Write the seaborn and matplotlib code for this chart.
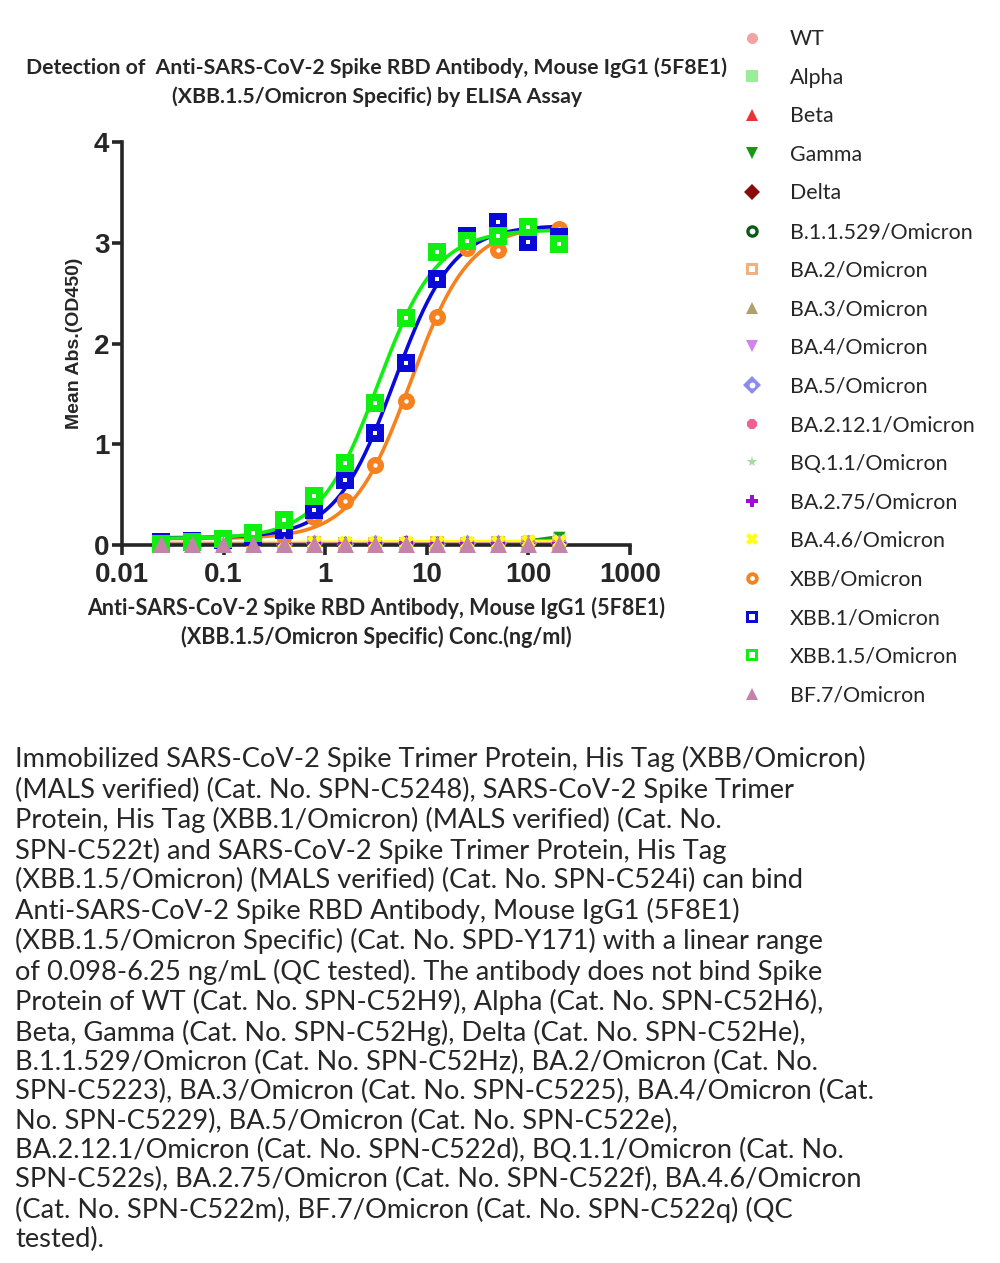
import numpy as np
import pandas as pd
import matplotlib
matplotlib.use("Agg")
import matplotlib.pyplot as plt
import seaborn as sns
from matplotlib.lines import Line2D

# Concentraciones (ng/ml)
conc = [0.0244, 0.0488, 0.0977, 0.1953, 0.3906, 0.7813, 1.5625, 3.125, 6.25, 12.5, 25, 50, 100, 200]

variants = ["WT", "Alpha", "Beta", "Gamma", "Delta", "B.1.1.529/Omicron", "BA.2/Omicron",
            "BA.3/Omicron", "BA.4/Omicron", "BA.5/Omicron", "BA.2.12.1/Omicron", "BQ.1.1/Omicron",
            "BA.2.75/Omicron", "BA.4.6/Omicron", "XBB/Omicron", "XBB.1/Omicron", "XBB.1.5/Omicron",
            "BF.7/Omicron"]

wt = [0.02, 0.01, 0.02, 0.01, 0.02, 0.02, 0.01, 0.01, 0.02, 0.01, 0.02, 0.01, 0.02, 0.02]
alpha = [0.01, 0.02, 0.01, 0.02, 0.02, 0.01, 0.02, 0.02, 0.01, 0.02, 0.01, 0.02, 0.03, 0.07]
beta = [0.01, 0.01, 0.02, 0.01, 0.01, 0.02, 0.01, 0.02, 0.01, 0.01, 0.02, 0.01, 0.01, 0.02]
gamma = [0.02, 0.02, 0.01, 0.02, 0.01, 0.01, 0.02, 0.01, 0.02, 0.02, 0.01, 0.02, 0.04, 0.08]
delta = [0.01, 0.02, 0.01, 0.01, 0.02, 0.01, 0.01, 0.02, 0.01, 0.02, 0.01, 0.01, 0.02, 0.01]
b11529 = [0.02, 0.01, 0.02, 0.02, 0.01, 0.02, 0.02, 0.01, 0.02, 0.01, 0.02, 0.02, 0.01, 0.02]
ba2 = [0.01, 0.01, 0.01, 0.02, 0.02, 0.02, 0.01, 0.01, 0.01, 0.02, 0.01, 0.02, 0.02, 0.02]
ba3 = [0.02, 0.02, 0.02, 0.01, 0.02, 0.01, 0.02, 0.02, 0.02, 0.01, 0.02, 0.01, 0.01, 0.03]
ba4 = [0.01, 0.02, 0.01, 0.01, 0.00, 0.01, 0.00, 0.01, 0.01, 0.02, 0.01, 0.01, 0.01, 0.01]
ba5 = [0.02, 0.01, 0.02, 0.02, 0.01, 0.02, 0.01, 0.02, 0.02, 0.01, 0.02, 0.02, 0.02, 0.02]
ba2121 = [0.01, 0.02, 0.01, 0.02, 0.02, 0.01, 0.02, 0.01, 0.01, 0.02, 0.01, 0.01, 0.02, 0.02]
bq11 = [0.02, 0.01, 0.02, 0.01, 0.01, 0.02, 0.02, 0.02, 0.01, 0.02, 0.02, 0.02, 0.01, 0.02]
ba275 = [0.01, 0.01, 0.02, 0.01, 0.00, 0.01, 0.01, 0.01, 0.02, 0.01, 0.01, 0.01, 0.00, 0.01]
ba46 = [0.02, 0.02, 0.02, 0.02, 0.03, 0.03, 0.03, 0.03, 0.03, 0.03, 0.03, 0.03, 0.04, 0.04]
xbb = [0.03, 0.03, 0.03, 0.04, 0.10, 0.28, 0.44, 0.79, 1.43, 2.26, 2.95, 2.93, 3.10, 3.14]
xbb1 = [0.03, 0.04, 0.05, 0.08, 0.15, 0.35, 0.65, 1.11, 1.81, 2.64, 3.07, 3.21, 3.01, 3.06]
xbb15 = [0.01, 0.03, 0.06, 0.12, 0.25, 0.49, 0.81, 1.41, 2.25, 2.91, 3.02, 3.07, 3.16, 2.99]
bf7 = [0.01, 0.01, 0.01, 0.01, 0.01, 0.01, 0.01, 0.01, 0.01, 0.01, 0.01, 0.01, 0.01, 0.01]

values = [wt, alpha, beta, gamma, delta, b11529, ba2, ba3, ba4, ba5, ba2121, bq11,
          ba275, ba46, xbb, xbb1, xbb15, bf7]

# estilo de cada serie: color, marcador, tamaño, punto blanco central
styles = [
    ("#f4a3a3", "o", 70, 0), ("#98ee98", "s", 70, 0), ("#ea3434", "^", 70, 0),
    ("#149a14", "v", 70, 0), ("#8b0a0a", "D", 60, 0), ("#0b5a12", "o", 90, 25),
    ("#f2b07e", "s", 90, 12), ("#b0a06e", "^", 90, 0), ("#cf84ee", "v", 90, 0),
    ("#8c8cf0", "D", 80, 20), ("#f0608e", "8", 90, 0), ("#a8d8a8", "*", 90, 0),
    ("#9b0fd0", "P", 110, 0), ("#ffff10", "X", 110, 0), ("#f5821e", "o", 150, 10),
    ("#0a0ad8", "s", 150, 8), ("#11ee11", "s", 170, 8), ("#c483a8", "^", 150, 0),
]


def fit_4pl(x, y):
    # ajuste logístico de 4 parámetros por búsqueda en rejilla
    lx = np.log10(x)
    y = np.asarray(y)
    lc = np.linspace(-2, 3, 251)[:, None, None]
    h = np.linspace(0.3, 3.0, 55)[None, :, None]
    s = 1.0 / (1.0 + 10 ** ((lc - lx) * h))
    a = 1 - s
    saa, sab, sbb = (a * a).sum(-1), (a * s).sum(-1), (s * s).sum(-1)
    say, sby = (a * y).sum(-1), (s * y).sum(-1)
    det = saa * sbb - sab ** 2 + 1e-12
    bot = (sbb * say - sab * sby) / det
    top = (saa * sby - sab * say) / det
    pred = bot[..., None] * a + top[..., None] * s
    res = ((pred - y) ** 2).sum(-1)
    i, j = np.unravel_index(np.argmin(res), res.shape)
    return bot[i, j], top[i, j], lc[i, 0, 0], h[0, j, 0]


sns.set_style("ticks")
plt.rcParams["font.family"] = ["Liberation Sans", "DejaVu Sans"]

fig = plt.figure(figsize=(10, 12.63), dpi=100)
ax = fig.add_axes([0.122, 0.5685, 0.508, 0.319])

xs = np.logspace(np.log10(conc[0]), np.log10(conc[-1]), 300)
handles = []
for name, vals, (col, mk, sz, hole) in zip(variants, values, styles):
    b, t, lc, h = fit_4pl(np.array(conc), vals)
    yfit = b + (t - b) / (1 + 10 ** ((lc - np.log10(xs)) * h))
    sns.lineplot(x=xs, y=yfit, color=col, lw=2.6, ax=ax, clip_on=False)
    sns.scatterplot(x=conc, y=vals, color=col, marker=mk, s=sz, linewidth=0,
                    ax=ax, clip_on=False, zorder=3)
    hmk = "s" if mk == "s" else "o"
    if hole:
        sns.scatterplot(x=conc, y=vals, color="white", marker=hmk,
                        s=hole, linewidth=0, ax=ax, clip_on=False, zorder=3)
    full = Line2D([], [], ls="none", marker=mk, color=col, markeredgewidth=0,
                  markersize=9 if hole else 8)
    if hole:
        dot = Line2D([], [], ls="none", marker=hmk, color="white", markeredgewidth=0,
                     markersize=3.5 if mk == "o" and hole < 20 else 4.2)
        handles.append((full, dot))
    else:
        handles.append(full)

ax.set_xscale("log")
ax.set_xlim(0.01, 1000)
ax.set_ylim(0, 4)
ax.set_xticks([0.01, 0.1, 1, 10, 100, 1000])
ax.set_xticklabels(["0.01", "0.1", "1", "10", "100", "1000"])
ax.set_yticks([0, 1, 2, 3, 4])
ax.minorticks_off()
ax.tick_params(axis="both", width=2.6, length=7, labelsize=20, pad=2)
ax.tick_params(axis="x", pad=5)
for lab in ax.get_xticklabels() + ax.get_yticklabels():
    lab.set_fontweight("bold")
for sp in ["top", "right"]:
    ax.spines[sp].set_visible(False)
for sp in ["left", "bottom"]:
    ax.spines[sp].set_linewidth(2.6)

ax.set_ylabel("Mean Abs.(OD450)", fontsize=14, fontweight="bold", labelpad=8)
ax.set_xlabel("Anti-SARS-CoV-2 Spike RBD Antibody, Mouse IgG1 (5F8E1)\n"
              "(XBB.1.5/Omicron Specific) Conc.(ng/ml)",
              fontsize=15.5, fontweight="bold", family="Lato", labelpad=7,
              linespacing=1.35)

fig.text(0.377, 0.935, "Detection of  Anti-SARS-CoV-2 Spike RBD Antibody, Mouse IgG1 (5F8E1)\n"
         "(XBB.1.5/Omicron Specific) by ELISA Assay",
         ha="center", va="center", fontsize=15.3, fontweight="bold", family="Lato",
         linespacing=1.5)

fig.legend(handles=handles, labels=variants, loc="upper left",
           bbox_to_anchor=(0.739, 0.977),
           frameon=False, labelspacing=0.87, handletextpad=1.18,
           handlelength=1.2, borderaxespad=0, borderpad=0,
           prop={"family": "Lato", "size": 15.4})

body = ("Immobilized SARS-CoV-2 Spike Trimer Protein, His Tag (XBB/Omicron)\n"
        "(MALS verified) (Cat. No. SPN-C5248), SARS-CoV-2 Spike Trimer\n"
        "Protein, His Tag (XBB.1/Omicron) (MALS verified) (Cat. No.\n"
        "SPN-C522t) and SARS-CoV-2 Spike Trimer Protein, His Tag\n"
        "(XBB.1.5/Omicron) (MALS verified) (Cat. No. SPN-C524i) can bind\n"
        "Anti-SARS-CoV-2 Spike RBD Antibody, Mouse IgG1 (5F8E1)\n"
        "(XBB.1.5/Omicron Specific) (Cat. No. SPD-Y171) with a linear range\n"
        "of 0.098-6.25 ng/mL (QC tested). The antibody does not bind Spike\n"
        "Protein of WT (Cat. No. SPN-C52H9), Alpha (Cat. No. SPN-C52H6),\n"
        "Beta, Gamma (Cat. No. SPN-C52Hg), Delta (Cat. No. SPN-C52He),\n"
        "B.1.1.529/Omicron (Cat. No. SPN-C52Hz), BA.2/Omicron (Cat. No.\n"
        "SPN-C5223), BA.3/Omicron (Cat. No. SPN-C5225), BA.4/Omicron (Cat.\n"
        "No. SPN-C5229), BA.5/Omicron (Cat. No. SPN-C522e),\n"
        "BA.2.12.1/Omicron (Cat. No. SPN-C522d), BQ.1.1/Omicron (Cat. No.\n"
        "SPN-C522s), BA.2.75/Omicron (Cat. No. SPN-C522f), BA.4.6/Omicron\n"
        "(Cat. No. SPN-C522m), BF.7/Omicron (Cat. No. SPN-C522q) (QC\n"
        "tested).")
fig.text(0.015, 1 - 746 / 1263, body, ha="left", va="top", fontsize=19.6,
         family="Lato", linespacing=1.21)

fig.savefig("out.png", dpi=100)
